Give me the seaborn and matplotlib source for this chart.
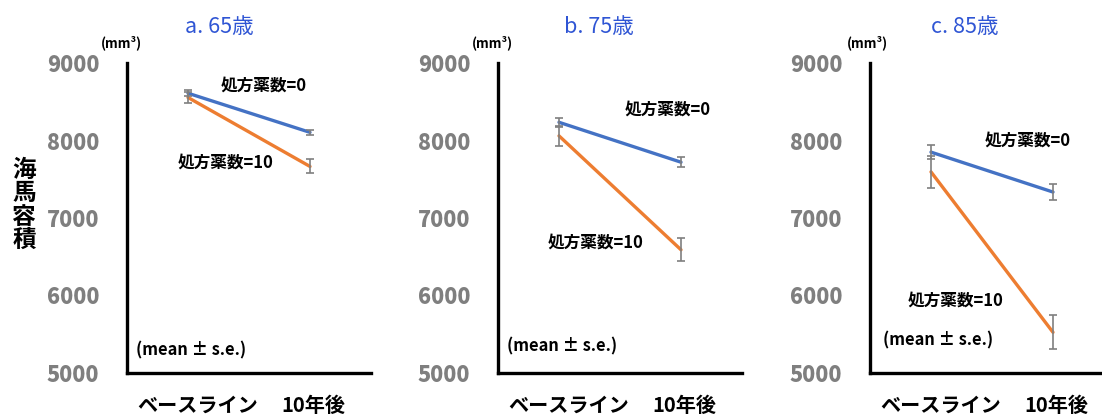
import matplotlib
matplotlib.use("Agg")
import matplotlib.pyplot as plt
import matplotlib.transforms as mtrans
import seaborn as sns
import pandas as pd

sns.set_theme(style="white")
plt.rcParams['font.family'] = ['Noto Sans CJK JP', 'DejaVu Sans']

# ---- data ----
categories = ["ベースライン", "10年後"]
panel_titles = ["a. 65歳", "b. 75歳", "c. 85歳"]
groups = ["処方薬数=0", "処方薬数=10"]

mean_0 = [[8610, 8105], [8235, 7720], [7850, 7335]]
se_0 = [[40, 30], [60, 65], [95, 100]]
mean_10 = [[8555, 7665], [8060, 6590], [7595, 5525]]
se_10 = [[65, 90], [130, 150], [210, 220]]

yticks = [5000, 6000, 7000, 8000, 9000]

W, H = 1102, 416
fig = plt.figure(figsize=(W / 100, H / 100), dpi=100)

def fx(px):
    return px / W

def fy(py):
    return 1 - py / H

axis_left = [127, 498, 870]
ax_w = 244
ax_top, ax_bot = 63, 373
title_x = [219, 599, 965]
mm_x = [121, 492, 867]
lab0 = [(264, 86), (668, 110), (1028, 141)]
lab10 = [(226, 163), (596, 243), (956, 301)]
mean_lab = [(191, 350), (562, 346), (938, 340)]
xlabel_shift = [0.10, 0.03]  # inches

blue = "#4472C4"
orange = "#ED7D31"

for i in range(3):
    ax = fig.add_axes([fx(axis_left[i]), fy(ax_bot), fx(ax_w), (ax_bot - ax_top) / H])
    df = pd.DataFrame({
        "time": categories * 2,
        "vol": mean_0[i] + mean_10[i],
        "group": [groups[0]] * 2 + [groups[1]] * 2,
    })
    sns.lineplot(data=df, x="time", y="vol", hue="group", palette=[blue, orange],
                 linewidth=2.4, legend=False, ax=ax, sort=False)
    xs = list(range(len(categories)))
    ax.errorbar(xs, mean_0[i], yerr=se_0[i], fmt="none", ecolor="#7f7f7f",
                elinewidth=1.2, capsize=3, capthick=1.2, zorder=5)
    ax.errorbar(xs, mean_10[i], yerr=se_10[i], fmt="none", ecolor="#7f7f7f",
                elinewidth=1.2, capsize=3, capthick=1.2, zorder=5)
    ax.set_xlim(-0.5, 1.5)
    ax.set_ylim(5000, 9000)
    ax.set_yticks(yticks)
    ax.set_yticklabels([str(v) for v in yticks], color="#7f7f7f",
                       fontweight="heavy", fontsize=15.5)
    ax.set_xticks(xs)
    ax.set_xticklabels(categories, fontweight="bold", fontsize=14.5, color="black")
    ax.tick_params(axis="y", length=0, pad=20)
    ax.tick_params(axis="x", length=0, pad=16)
    for lbl, sh in zip(ax.get_xticklabels(), xlabel_shift):
        lbl.set_transform(lbl.get_transform() +
                          mtrans.ScaledTranslation(sh, 0, fig.dpi_scale_trans))
    ax.set_xlabel("")
    ax.set_ylabel("")
    for s in ["top", "right"]:
        ax.spines[s].set_visible(False)
    for s in ["left", "bottom"]:
        ax.spines[s].set_color("black")
        ax.spines[s].set_linewidth(2.4)
    ax.patch.set_alpha(0)

    fig.text(fx(title_x[i]), fy(27), panel_titles[i], color="#2F55D4",
             fontsize=15.5, ha="center", va="center")
    fig.text(fx(mm_x[i]), fy(43), "(mm³)", fontsize=9.5, fontweight="bold",
             ha="center", va="center", color="black")
    fig.text(fx(lab0[i][0]), fy(lab0[i][1]), groups[0], fontsize=12,
             fontweight="bold", ha="center", va="center", color="black")
    fig.text(fx(lab10[i][0]), fy(lab10[i][1]), groups[1], fontsize=12,
             fontweight="bold", ha="center", va="center", color="black")
    fig.text(fx(mean_lab[i][0]), fy(mean_lab[i][1]), "(mean ± s.e.)", fontsize=11.8,
             fontweight="bold", ha="center", va="center", color="black")

fig.text(fx(24), fy(205), "海\n馬\n容\n積", fontsize=17, fontweight="bold",
         ha="center", va="center", linespacing=0.95, color="black")

fig.savefig("out.png", dpi=100)
